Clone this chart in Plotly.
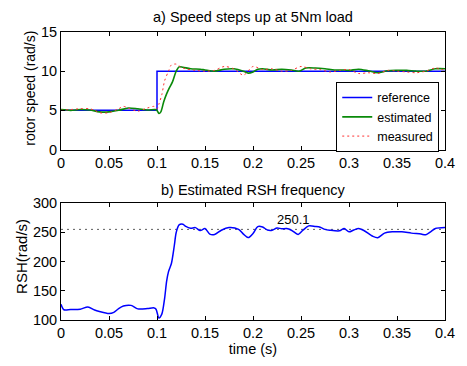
import plotly.graph_objects as go

# ---- data ----
ref_t = [0, 0.1, 0.1, 0.4]
ref_w = [5, 5, 10, 10]

est_t = [0, 0.01, 0.02, 0.03, 0.04, 0.05, 0.06, 0.07, 0.08, 0.09, 0.098, 0.1, 0.102, 0.104,
         0.107, 0.11, 0.113, 0.116, 0.12, 0.123, 0.127, 0.135, 0.145, 0.15, 0.16, 0.17, 0.18,
         0.19, 0.195, 0.2, 0.205, 0.21, 0.22, 0.23, 0.24, 0.248, 0.255, 0.265, 0.275, 0.285,
         0.295, 0.3, 0.31, 0.32, 0.33, 0.34, 0.35, 0.36, 0.37, 0.38, 0.39, 0.4]
est_w = [5.1, 5.0, 5.1, 5.05, 4.8, 4.8, 5.0, 5.3, 5.2, 5.05, 5.1, 5.0, 4.6, 4.8,
         6.1, 7.1, 7.9, 8.6, 10.0, 10.55, 10.5, 10.3, 10.25, 10.15, 10.0, 10.25, 10.3,
         10.0, 9.75, 9.9, 10.25, 10.3, 10.15, 10.25, 10.15, 10.0, 10.4, 10.4, 10.3, 10.15,
         10.15, 10.1, 10.25, 10.05, 9.8, 10.05, 10.1, 10.1, 10.0, 10.0, 10.3, 10.3]

meas_t = [0, 0.01, 0.02, 0.03, 0.035, 0.04, 0.05, 0.06, 0.065, 0.07, 0.08, 0.09, 0.097, 0.1,
          0.102, 0.105, 0.108, 0.112, 0.115, 0.12, 0.125, 0.13, 0.14, 0.15, 0.16, 0.17, 0.18,
          0.19, 0.2, 0.21, 0.22, 0.23, 0.24, 0.25, 0.26, 0.27, 0.28, 0.29, 0.3, 0.31, 0.32,
          0.33, 0.34, 0.35, 0.36, 0.37, 0.38, 0.39, 0.4]
meas_w = [5.0, 5.1, 5.2, 5.2, 5.0, 4.7, 4.7, 5.2, 5.5, 5.3, 4.9, 5.3, 5.5, 5.2,
          5.8, 7.0, 8.8, 10.0, 10.8, 10.9, 10.5, 10.3, 10.1, 10.0, 10.1, 10.6, 10.3,
          9.5, 10.6, 10.2, 10.3, 10.0, 10.1, 10.6, 10.3, 10.2, 9.9, 10.1, 10.2, 9.7, 9.8,
          9.7, 10.1, 10.0, 9.9, 9.8, 10.0, 10.4, 10.1]

rsh_t = [0, 0.003, 0.01, 0.02, 0.028, 0.035, 0.04, 0.05, 0.055, 0.06, 0.065, 0.073, 0.08,
         0.09, 0.097, 0.099, 0.102, 0.105, 0.108, 0.11, 0.112, 0.115, 0.118, 0.12, 0.123,
         0.127, 0.13, 0.135, 0.14, 0.145, 0.15, 0.155, 0.16, 0.167, 0.175, 0.185, 0.19,
         0.195, 0.2, 0.205, 0.21, 0.215, 0.22, 0.225, 0.23, 0.235, 0.24, 0.247, 0.252,
         0.258, 0.265, 0.27, 0.275, 0.28, 0.29, 0.295, 0.3, 0.305, 0.31, 0.315, 0.325,
         0.33, 0.337, 0.345, 0.355, 0.365, 0.375, 0.38, 0.385, 0.39, 0.4]
rsh_w = [127, 117.5, 118, 118.5, 122.3, 117, 114.5, 111, 113, 119.5, 124, 125, 119,
         119.5, 120.7, 118.5, 103.5, 110, 138, 166, 182.7, 196.6, 227, 249.7, 262.6,
         263.7, 260, 257, 258, 253, 256.4, 247, 246.4, 253.6, 258, 255, 247,
         241, 248, 259.8, 259, 254, 253.6, 257.5, 256, 256.4, 253.6, 246.4, 253.6,
         261, 260, 258.7, 255, 253.6, 252.5, 256.4, 250.8, 254, 256.4, 253.6, 243,
         240.8, 248.6, 250.8, 250.8, 248.6, 247, 245.8, 250.8, 256.4, 258]

rsh_level = 255
rsh_label = "250.1"

x_ticks = [0, 0.05, 0.1, 0.15, 0.2, 0.25, 0.3, 0.35, 0.4]
x_ticktext = ["0", "0.05", "0.1", "0.15", "0.2", "0.25", "0.3", "0.35", "0.4"]
y1_ticks = [0, 5, 10, 15]
y2_ticks = [100, 150, 200, 250, 300]

FONT = "Liberation Sans, Arial, sans-serif"

fig = go.Figure()
fig.add_trace(go.Scatter(x=ref_t, y=ref_w, mode="lines", name="reference",
                         line=dict(color="#0000ff", width=1.5), xaxis="x", yaxis="y"))
fig.add_trace(go.Scatter(x=est_t, y=est_w, mode="lines", name="estimated",
                         line=dict(color="#0a8a0a", width=1.6, shape="spline", smoothing=0.8),
                         xaxis="x", yaxis="y"))
fig.add_trace(go.Scatter(x=meas_t, y=meas_w, mode="lines", name="measured",
                         line=dict(color="#ff3030", width=1, dash="2px,3px", shape="spline", smoothing=0.8),
                         xaxis="x", yaxis="y"))
fig.add_trace(go.Scatter(x=[0, 0.4], y=[rsh_level, rsh_level], mode="lines", showlegend=False,
                         line=dict(color="#333333", width=0.8, dash="2px,4px"), xaxis="x2", yaxis="y2"))
fig.add_trace(go.Scatter(x=rsh_t, y=rsh_w, mode="lines", showlegend=False,
                         line=dict(color="#0000ff", width=1.5, shape="spline", smoothing=0.8),
                         xaxis="x2", yaxis="y2"))

ax_common = dict(showgrid=False, zeroline=False, showline=True, linecolor="black", linewidth=1,
                 mirror="allticks", ticks="inside", ticklen=4, tickcolor="black",
                 tickfont=dict(family=FONT, size=14.5, color="black"))

fig.update_layout(
    width=467, height=366,
    margin=dict(l=61, r=13, t=32, b=40),
    paper_bgcolor="white", plot_bgcolor="white",
    font=dict(family=FONT, color="black"),
    xaxis=dict(domain=[0, 1], range=[0, 0.4], anchor="y", tickvals=x_ticks, ticktext=x_ticktext, **ax_common),
    yaxis=dict(domain=[0.592, 1], range=[0, 15], anchor="x", tickvals=y1_ticks, **ax_common),
    xaxis2=dict(domain=[0, 1], range=[0, 0.4], anchor="y2", tickvals=x_ticks, ticktext=x_ticktext,
                title=dict(text="time (s)", font=dict(family=FONT, size=14.5), standoff=2), **ax_common),
    yaxis2=dict(domain=[0, 0.406], range=[100, 300], anchor="x2", tickvals=y2_ticks, **ax_common),
    legend=dict(x=0.985, y=0.8265, xanchor="right", yanchor="top", bgcolor="white",
                bordercolor="black", borderwidth=1, font=dict(family=FONT, size=12.5),
                tracegroupgap=0),
    annotations=[
        dict(text="a) Speed steps up at 5Nm load", xref="paper", yref="paper", x=0.5, y=1.0,
             xanchor="center", yanchor="bottom", yshift=5, showarrow=False, font=dict(family=FONT, size=14.5)),
        dict(text="b) Estimated RSH frequency", xref="paper", yref="paper", x=0.5, y=0.406,
             xanchor="center", yanchor="bottom", yshift=3, showarrow=False, font=dict(family=FONT, size=14.5)),
        dict(text="rotor speed (rad/s)", xref="paper", yref="paper", x=0, y=0.803, xshift=-31,
             xanchor="center", yanchor="middle",
             textangle=-90, showarrow=False, font=dict(family=FONT, size=14)),
        dict(text="RSH(rad/s)", xref="paper", yref="paper", x=0, y=0.219, xshift=-39,
             xanchor="center", yanchor="middle",
             textangle=-90, showarrow=False, font=dict(family=FONT, size=15)),
        dict(text=rsh_label, xref="x2", yref="y2", x=0.242, y=272, showarrow=False,
             font=dict(family=FONT, size=13)),
    ],
)

fig.write_html("out.html")
